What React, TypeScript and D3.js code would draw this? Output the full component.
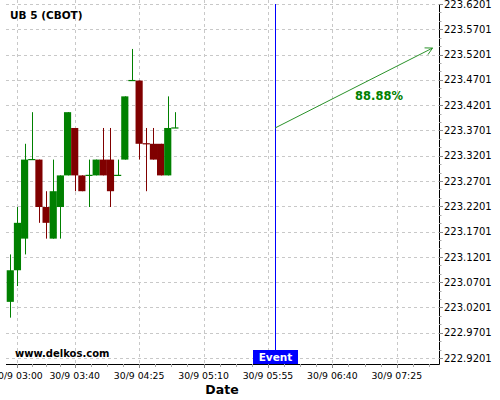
import React from "react";
import * as d3 from "d3";

const title = "UB 5 (CBOT)";
const watermark = "www.delkos.com";
const xAxisTitle = "Date";
const eventLabel = "Event";
const pctLabel = "88.88%";

const candleTimes = [
  "02:55", "03:00", "03:05", "03:10", "03:15", "03:20", "03:25", "03:30",
  "03:35", "03:40", "03:45", "03:50", "03:55", "04:00", "04:05", "04:10",
  "04:15", "04:20", "04:25", "04:30", "04:35", "04:40", "04:45", "04:50",
];
const opens = [
  223.03125, 223.09375, 223.15625, 223.3125, 223.3125, 223.21875, 223.15625, 223.21875,
  223.28125, 223.375, 223.28125, 223.28125, 223.28125, 223.3125, 223.3125, 223.28125,
  223.3125, 223.46875, 223.46875, 223.34375, 223.34375, 223.34375, 223.28125, 223.375,
];
const highs = [
  223.125, 223.21875, 223.34375, 223.40625, 223.3125, 223.25, 223.3125, 223.28125,
  223.40625, 223.375, 223.28125, 223.3125, 223.3125, 223.375, 223.375, 223.3125,
  223.4375, 223.53125, 223.46875, 223.375, 223.375, 223.34375, 223.4375, 223.40625,
];
const lows = [
  223.0, 223.0625, 223.125, 223.3125, 223.1875, 223.15625, 223.15625, 223.15625,
  223.28125, 223.25, 223.25, 223.21875, 223.28125, 223.28125, 223.21875, 223.28125,
  223.3125, 223.46875, 223.3125, 223.25, 223.3125, 223.28125, 223.28125, 223.375,
];
const closes = [
  223.09375, 223.1875, 223.3125, 223.3125, 223.21875, 223.1875, 223.25, 223.28125,
  223.40625, 223.28125, 223.25, 223.28125, 223.3125, 223.28125, 223.25, 223.28125,
  223.4375, 223.46875, 223.34375, 223.34375, 223.3125, 223.28125, 223.375, 223.375,
];
const bullish = [
  true, true, true, true, false, false, true, true,
  true, false, false, true, true, false, false, true,
  true, true, false, false, false, false, true, true,
];

const xMajorTicks = ["03:00", "03:40", "04:25", "05:10", "05:55", "06:40", "07:25"];
const xDomain = ["02:52:00", "07:54:30"];
const yTicks = [
  222.9201, 222.9701, 223.0201, 223.0701, 223.1201, 223.1701, 223.2201, 223.2701,
  223.3201, 223.3701, 223.4201, 223.4701, 223.5201, 223.5701, 223.6201,
];
const yDomain = [222.9084, 223.6201];

const eventTime = "06:00";
const arrowStart = { time: "06:00", value: 223.375 };
const arrowEnd = { time: "07:50", value: 223.533 };

function t(s: string): Date {
  const p = s.split(":").map(Number);
  return new Date(2023, 8, 30, p[0], p[1], p[2] || 0);
}

const FONT = "DejaVu Sans, sans-serif";
const GREEN = "#008000";
const RED = "#800000";
const GRID = "#c8c8c8";

export default function App() {
  const left = 6, right = 439, top = 4, bottom = 364;
  const x = d3.scaleTime().domain(xDomain.map(t)).range([left, right]);
  const y = d3.scaleLinear().domain(yDomain).range([bottom, top]);

  // minor x ticks: quarters between majors, continued after last
  const majorDates = xMajorTicks.map(t);
  const minorX: Date[] = [];
  for (let i = 0; i < majorDates.length - 1; i++) {
    const a = +majorDates[i], b = +majorDates[i + 1];
    for (let k = 1; k < 4; k++) minorX.push(new Date(a + ((b - a) * k) / 4));
  }
  {
    const a = +majorDates[majorDates.length - 2], b = +majorDates[majorDates.length - 1];
    const step = (b - a) / 4;
    for (let v = b + step; v <= +x.domain()[1]; v += step) minorX.push(new Date(v));
  }
  const minorY: number[] = [];
  for (let i = 0; i < yTicks.length - 1; i++) {
    const a = yTicks[i], b = yTicks[i + 1];
    for (let k = 1; k < 3; k++) minorY.push(a + ((b - a) * k) / 3);
  }

  const five = +t("00:05") - +t("00:00");
  const bw = x(new Date(+t(candleTimes[0]) + five)) - x(t(candleTimes[0]));

  const ax = x(t(arrowStart.time)), ay = y(arrowStart.value);
  const bx = x(t(arrowEnd.time)), by = y(arrowEnd.value);
  const ang = Math.atan2(ay - by, ax - bx);
  const headLen = 8, headAng = (28 * Math.PI) / 180;
  const h1 = [bx + headLen * Math.cos(ang + headAng), by + headLen * Math.sin(ang + headAng)];
  const h2 = [bx + headLen * Math.cos(ang - headAng), by + headLen * Math.sin(ang - headAng)];

  const ex = Math.round(x(t(eventTime))) + 0.5;

  return (
    <svg
      width={500}
      height={400}
      style={{ position: "absolute", left: 0, top: 0, background: "#fff" }}
      fontFamily={FONT}
    >
      <rect x={0} y={0} width={500} height={400} fill="#fff" />
      {/* grid */}
      {majorDates.map((d, i) => (
        <line key={"gx" + i} x1={Math.round(x(d)) + 0.5} x2={Math.round(x(d)) + 0.5} y1={0} y2={bottom}
          stroke={GRID} strokeDasharray="3,3" />
      ))}
      {yTicks.map((v, i) => (
        <line key={"gy" + i} x1={left} x2={right} y1={Math.round(y(v)) + 0.5} y2={Math.round(y(v)) + 0.5}
          stroke={GRID} strokeDasharray="3,3" />
      ))}
      {/* candles */}
      {candleTimes.map((ts, i) => {
        const cx = x(t(ts));
        const col = bullish[i] ? GREEN : RED;
        const yo = y(opens[i]), yc = y(closes[i]);
        const y0 = Math.min(yo, yc), h = Math.max(1.2, Math.abs(yo - yc));
        return (
          <g key={"c" + i}>
            <line x1={Math.round(cx) + 0.5} x2={Math.round(cx) + 0.5} y1={y(highs[i])} y2={y(lows[i])}
              stroke={col} strokeWidth={1} />
            <rect x={cx - bw / 2} y={h < 1.5 ? y0 - 0.6 : y0} width={bw} height={h} fill={col} />
          </g>
        );
      })}
      {/* event line */}
      <line x1={ex} x2={ex} y1={top} y2={350} stroke="#0000ff" strokeWidth={1} />
      {/* arrow */}
      <g stroke="#2a922a" strokeWidth={1} fill="none">
        <line x1={ax} y1={ay} x2={bx} y2={by} />
        <polyline points={`${h1[0]},${h1[1]} ${bx},${by} ${h2[0]},${h2[1]}`} />
      </g>
      <text x={379} y={100} textAnchor="middle" fontSize={11.5} fontWeight="bold" fill={GREEN}>
        {pctLabel}
      </text>
      {/* axes */}
      <line x1={left} x2={right + 0.5} y1={bottom + 0.5} y2={bottom + 0.5} stroke="#000" />
      <line x1={right + 0.5} x2={right + 0.5} y1={top} y2={bottom + 0.5} stroke="#000" />
      {majorDates.map((d, i) => (
        <g key={"xt" + i}>
          <line x1={Math.round(x(d)) + 0.5} x2={Math.round(x(d)) + 0.5} y1={bottom} y2={bottom + 4} stroke="#888" />
          <text x={x(d)} y={379} textAnchor="middle" fontSize={9.3} fill="#000">
            {"30/9 " + xMajorTicks[i]}
          </text>
        </g>
      ))}
      {minorX.map((d, i) => (
        <line key={"xm" + i} x1={Math.round(x(d)) + 0.5} x2={Math.round(x(d)) + 0.5} y1={bottom} y2={bottom + 3} stroke="#aaa" />
      ))}
      {yTicks.map((v, i) => (
        <g key={"yt" + i}>
          <line x1={right} x2={right + 4} y1={Math.round(y(v)) + 0.5} y2={Math.round(y(v)) + 0.5} stroke="#888" />
          <text x={444} y={y(v) + 3.6} fontSize={10} fill="#000">
            {v.toFixed(4)}
          </text>
        </g>
      ))}
      {minorY.map((v, i) => (
        <line key={"ym" + i} x1={right} x2={right + 2.5} y1={Math.round(y(v)) + 0.5} y2={Math.round(y(v)) + 0.5} stroke="#aaa" />
      ))}
      {/* event label */}
      <rect x={253} y={350} width={45} height={14} fill="#0000ff" />
      <text x={275.5} y={361} textAnchor="middle" fontSize={10.5} fontWeight="bold" fill="#fff">
        {eventLabel}
      </text>
      {/* texts */}
      <text x={10} y={19} fontSize={10.5} fontWeight="bold" fill="#000">{title}</text>
      <text x={15} y={357} fontSize={10} fontWeight="bold" fill="#000">{watermark}</text>
      <text x={222} y={394} textAnchor="middle" fontSize={12.5} fontWeight="bold" fill="#000">{xAxisTitle}</text>
    </svg>
  );
}
